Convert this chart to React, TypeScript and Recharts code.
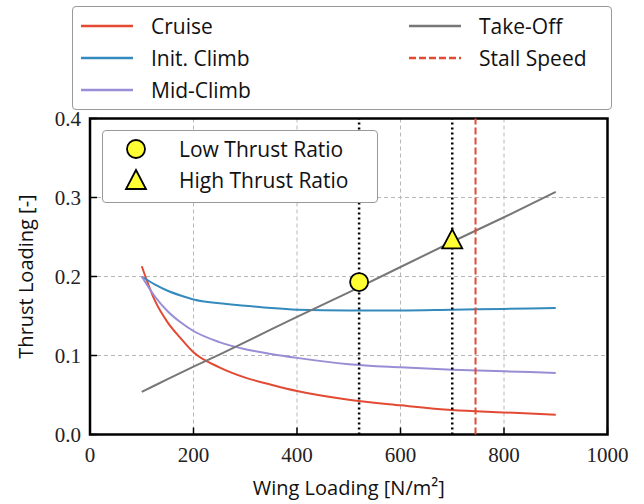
import React from "react";
import {
  ComposedChart,
  Line,
  Scatter,
  XAxis,
  YAxis,
  CartesianGrid,
  ReferenceLine,
  ReferenceArea,
} from "recharts";

// wing loading samples [N/m^2]
const wingLoading = [100, 125, 150, 175, 200, 250, 300, 350, 400, 500, 600, 700, 800, 900];
// thrust loading per segment
const cruise = [0.213, 0.170, 0.142, 0.122, 0.104, 0.085, 0.072, 0.063, 0.055, 0.044, 0.037, 0.031, 0.028, 0.025];
const initClimb = [0.200, 0.190, 0.182, 0.176, 0.171, 0.166, 0.163, 0.160, 0.158, 0.157, 0.157, 0.158, 0.159, 0.160];
const midClimb = [0.200, 0.175, 0.156, 0.142, 0.131, 0.117, 0.108, 0.102, 0.097, 0.089, 0.085, 0.082, 0.080, 0.078];
const takeOff = [0.054, 0.062, 0.070, 0.078, 0.086, 0.101, 0.117, 0.133, 0.149, 0.180, 0.212, 0.244, 0.275, 0.307];

const stallLoading = 745;
const lowThrust = [{ w: 520, t: 0.193 }];
const highThrust = [{ w: 700, t: 0.247 }];

const xTicks = [0, 200, 400, 600, 800, 1000];
const yTicks = [0, 0.1, 0.2, 0.3, 0.4];

const data = wingLoading.map((w, i) => ({
  w,
  cruise: cruise[i],
  initClimb: initClimb[i],
  midClimb: midClimb[i],
  takeOff: takeOff[i],
}));

const RED = "#E24A33";
const BLUE = "#348ABD";
const PURPLE = "#988ED5";
const GRAY = "#777777";
const YELLOW = "#FFFF33";
const SANS = "'Open Sans', sans-serif";
const SERIF = "'Liberation Serif', serif";

const XTick = (props: any) => {
  const { x, y, payload } = props;
  return (
    <g>
      <line x1={x} x2={x} y1={y} y2={y - 7} stroke="#000" strokeWidth={1.5} />
      <text x={x} y={y + 27} textAnchor="middle" fontFamily={SERIF} fontSize={21} fill="#222">
        {payload.value}
      </text>
    </g>
  );
};

const YTick = (props: any) => {
  const { x, y, payload } = props;
  return (
    <g>
      <line x1={x} x2={x + 7} y1={y} y2={y} stroke="#000" strokeWidth={1.5} />
      <text x={x - 9} y={y + 7} textAnchor="end" fontFamily={SERIF} fontSize={21} fill="#222">
        {Number(payload.value).toFixed(1)}
      </text>
    </g>
  );
};

const Circle = (p: any) => (
  <circle cx={p.cx} cy={p.cy} r={9} fill={YELLOW} stroke="#000" strokeWidth={1.8} />
);
const Triangle = (p: any) => (
  <polygon
    points={`${p.cx},${p.cy - 10} ${p.cx - 10},${p.cy + 9} ${p.cx + 10},${p.cy + 9}`}
    fill={YELLOW}
    stroke="#000"
    strokeWidth={1.8}
  />
);

const LegendItem = ({ color, dash, label, left, top }: any) => (
  <div style={{ position: "absolute", left, top, display: "flex", alignItems: "center" }}>
    <svg width={52} height={10}>
      <line x1={0} x2={52} y1={5} y2={5} stroke={color} strokeWidth={2.5} strokeDasharray={dash} />
    </svg>
    <span style={{ marginLeft: 18, fontFamily: SANS, fontSize: 21, color: "#111", lineHeight: "24px" }}>
      {label}
    </span>
  </div>
);

export default function App() {
  return (
    <div style={{ position: "absolute", left: 0, top: 0, width: 644, height: 504, background: "#fff" }}>
      <ComposedChart
        width={644}
        height={504}
        data={data}
        margin={{ top: 118.5, right: 36.5, left: 0, bottom: 0 }}
      >
        <CartesianGrid stroke="#b8b8b8" strokeDasharray="4 3" strokeWidth={1} />
        <XAxis
          dataKey="w"
          type="number"
          domain={[0, 1000]}
          ticks={xTicks}
          height={69.5}
          tickSize={0}
          tickMargin={0}
          axisLine={false}
          tickLine={false}
          tick={<XTick />}
          label={{
            value: "Wing Loading [N/m²]",
            position: "insideBottom",
            offset: 9,
            style: { fontFamily: SANS, fontSize: 20, fill: "#111" },
          }}
        />
        <YAxis
          type="number"
          domain={[0, 0.4]}
          ticks={yTicks}
          width={90}
          tickSize={0}
          tickMargin={0}
          axisLine={false}
          tickLine={false}
          tick={<YTick />}
          label={{
            value: "Thrust Loading [-]",
            angle: -90,
            position: "insideLeft",
            offset: 26,
            style: { textAnchor: "middle", fontFamily: SANS, fontSize: 20, fill: "#111" },
          }}
        />
        <Line dataKey="cruise" type="monotone" stroke={RED} strokeWidth={2} dot={false} isAnimationActive={false} />
        <Line dataKey="initClimb" type="monotone" stroke={BLUE} strokeWidth={2} dot={false} isAnimationActive={false} />
        <Line dataKey="midClimb" type="monotone" stroke={PURPLE} strokeWidth={2} dot={false} isAnimationActive={false} />
        <Line dataKey="takeOff" type="linear" stroke={GRAY} strokeWidth={2} dot={false} isAnimationActive={false} />
        <ReferenceLine x={lowThrust[0].w} stroke="#000" strokeWidth={2.5} strokeDasharray="2 3" />
        <ReferenceLine x={highThrust[0].w} stroke="#000" strokeWidth={2.5} strokeDasharray="2 3" />
        <ReferenceLine x={stallLoading} stroke={RED} strokeWidth={2} strokeDasharray="7 3" />
        <Scatter data={lowThrust} dataKey="t" shape={<Circle />} isAnimationActive={false} />
        <Scatter data={highThrust} dataKey="t" shape={<Triangle />} isAnimationActive={false} />
        <ReferenceArea x1={0} x2={1000} y1={0} y2={0.4} fill="none" stroke="#000" strokeWidth={2.5} ifOverflow="visible" />
      </ComposedChart>

      {/* top legend */}
      <div
        style={{
          position: "absolute",
          left: 72,
          top: 6,
          width: 538,
          height: 102,
          border: "1.5px solid #999",
          borderRadius: 4,
          background: "#fff",
        }}
      >
        <LegendItem color={RED} label="Cruise" left={8} top={7} />
        <LegendItem color={BLUE} label="Init. Climb" left={8} top={39} />
        <LegendItem color={PURPLE} label="Mid-Climb" left={8} top={71} />
        <LegendItem color={GRAY} label="Take-Off" left={336} top={7} />
        <LegendItem color={RED} dash="7 3" label="Stall Speed" left={336} top={39} />
      </div>

      {/* marker legend */}
      <div
        style={{
          position: "absolute",
          left: 102,
          top: 130,
          width: 274,
          height: 71,
          border: "1.5px solid #999",
          borderRadius: 4,
          background: "#fff",
          fontFamily: SANS,
          fontSize: 21,
          color: "#111",
        }}
      >
        <div style={{ position: "absolute", left: 21, top: 6, display: "flex", alignItems: "center" }}>
          <svg width={24} height={24}>
            <circle cx={12} cy={12} r={9} fill={YELLOW} stroke="#000" strokeWidth={1.8} />
          </svg>
          <span style={{ marginLeft: 31, lineHeight: "24px" }}>Low Thrust Ratio</span>
        </div>
        <div style={{ position: "absolute", left: 21, top: 37, display: "flex", alignItems: "center" }}>
          <svg width={24} height={24}>
            <polygon points="12,2 2,21 22,21" fill={YELLOW} stroke="#000" strokeWidth={1.8} />
          </svg>
          <span style={{ marginLeft: 31, lineHeight: "24px" }}>High Thrust Ratio</span>
        </div>
      </div>
    </div>
  );
}
